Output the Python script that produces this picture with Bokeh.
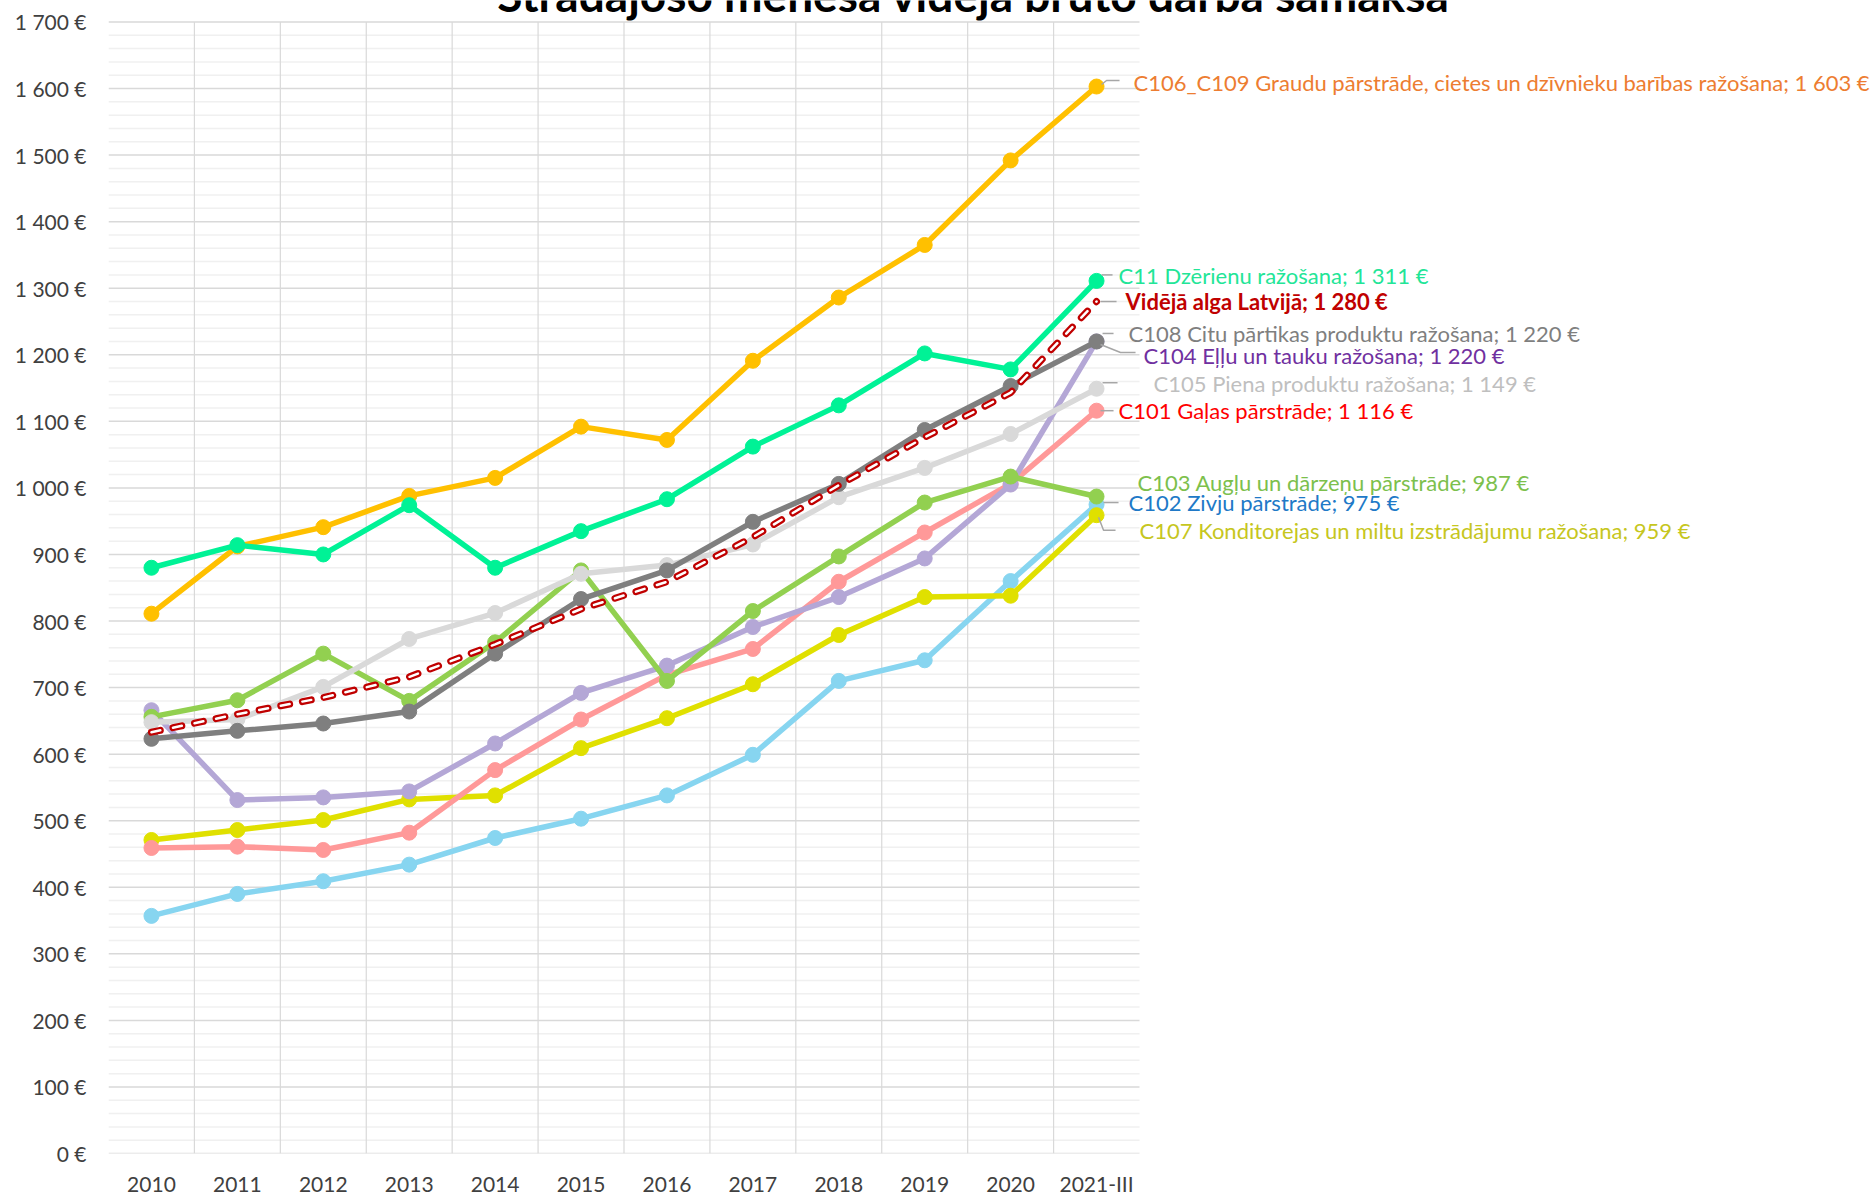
from bokeh.plotting import figure
from bokeh.models import FixedTicker, Range1d
from bokeh.embed import file_html
from bokeh.resources import INLINE
from bokeh.core.properties import value

# ---------------- data ----------------
categories = ["2010", "2011", "2012", "2013", "2014", "2015", "2016",
              "2017", "2018", "2019", "2020", "2021-III"]

c106_c109 = [811, 912, 941, 988, 1015, 1092, 1072, 1191, 1286, 1365, 1492, 1603]
c11 = [880, 914, 900, 974, 880, 935, 983, 1062, 1124, 1202, 1178, 1311]
videja_alga = [633, 660, 685, 716, 765, 818, 859, 926, 1004, 1076, 1143, 1280]
c108 = [623, 635, 646, 664, 751, 833, 876, 949, 1006, 1087, 1153, 1220]
c104 = [666, 531, 535, 544, 616, 692, 733, 791, 836, 894, 1005, 1220]
c105 = [648, 652, 701, 773, 812, 871, 884, 915, 986, 1030, 1081, 1149]
c101 = [459, 461, 456, 482, 576, 652, 719, 758, 859, 933, 1006, 1116]
c103 = [656, 681, 751, 680, 768, 876, 710, 815, 897, 978, 1017, 987]
c102 = [357, 390, 409, 434, 474, 503, 538, 599, 710, 741, 860, 975]
c107 = [471, 486, 501, 532, 538, 609, 654, 705, 779, 836, 838, 959]

names = {
    "c106_c109": "C106_C109 Graudu pārstrāde, cietes un dzīvnieku barības ražošana",
    "c11": "C11 Dzērienu ražošana",
    "videja": "Vidējā alga Latvijā",
    "c108": "C108 Citu pārtikas produktu ražošana",
    "c104": "C104 Eļļu un tauku ražošana",
    "c105": "C105 Piena produktu ražošana",
    "c101": "C101 Gaļas pārstrāde",
    "c103": "C103 Augļu un dārzeņu pārstrāde",
    "c102": "C102 Zivju pārstrāde",
    "c107": "C107 Konditorejas un miltu izstrādājumu ražošana",
}
series = {
    "c106_c109": c106_c109, "c11": c11, "videja": videja_alga, "c108": c108,
    "c104": c104, "c105": c105, "c101": c101, "c103": c103, "c102": c102,
    "c107": c107,
}
title_text = "Strādājošo mēneša vidējā bruto darba samaksa"
y_ticks = list(range(0, 1701, 100))
y_minor = [v for v in range(0, 1701, 20) if v % 100 != 0]

# ---------------- styles / layout ----------------
FONT = "Lato"
W, H = 1875, 1198
F_L, F_B = 108, 1155          # frame left / bottom (px)
CAT_W = 1031 / len(categories)  # px per category
PX_Y = (F_B - 21.5) / 1700.0    # px per euro
N = len(categories)
last = N - 1

line_color = {
    "c106_c109": "#FFC000", "c11": "#00F296", "videja": "#C00000",
    "c108": "#7F7F7F", "c104": "#B4A7D6", "c105": "#D9D9D9",
    "c101": "#FF9999", "c103": "#92D050", "c102": "#87D5F0", "c107": "#E0E000",
}
label_color = {
    "c106_c109": "#ED7D31", "c11": "#22E597", "videja": "#C00000",
    "c108": "#7F7F7F", "c104": "#7030A0", "c105": "#BFBFBF",
    "c101": "#FF0000", "c103": "#7CC04C", "c102": "#2079C7", "c107": "#C6C620",
}
# label placement relative to last point (px right, px down)
label_off = {
    "c106_c109": (37, -4), "c11": (22, -5), "videja": (29, 0),
    "c108": (32, -8), "c104": (47, 14), "c105": (57, -5), "c101": (22, 0),
    "c103": (41, -14), "c102": (32, -2), "c107": (43, 15),
}
# leader polylines relative to last point (px right, px down)
leaders = {
    "c106_c109": [(5, -2), (10, -6), (23, -6)],
    "c11": [(5, -6), (16, -6)],
    "videja": [(4, 0), (20, 0)],
    "c108": [(6, -8), (17, -8)],
    "c104": [(4, 3), (24, 11), (39, 11)],
    "c105": [(6, -6), (21, -6)],
    "c101": [(4, 0), (17, 0)],
    "c102": [(7, -2), (22, -2)],
    "c107": [(2, 2), (7, 15), (19, 15)],
}
draw_order = ["c106_c109", "c102", "c107", "c101", "c104", "c103", "c105",
              "c108", "c11"]


def euro(v):
    return f"{v:,}".replace(",", " ") + " €"


def px_x(i, dx):
    return i + dx / CAT_W


def px_y(v, dy):
    return v - dy / PX_Y


p = figure(width=W, height=H, output_backend="svg", toolbar_location=None,
           x_range=Range1d(-0.5, -0.5 + (W - F_L) / CAT_W),
           y_range=Range1d(0, F_B / PX_Y),
           min_border_left=F_L, min_border_right=0,
           min_border_top=0, min_border_bottom=H - F_B)
p.outline_line_color = None
p.background_fill_color = "white"
p.border_fill_color = "white"
p.grid.visible = False

# y axis
p.yaxis.ticker = FixedTicker(ticks=y_ticks, minor_ticks=[])
p.yaxis.major_label_overrides = {v: euro(v) for v in y_ticks}
p.yaxis.axis_line_color = None
p.yaxis.major_tick_line_color = None
p.yaxis.minor_tick_line_color = None
p.yaxis.major_tick_out = 0
p.yaxis.minor_tick_out = 0
p.yaxis.major_label_standoff = 22
p.yaxis.major_label_text_font = FONT
p.yaxis.major_label_text_font_size = "21px"
p.yaxis.major_label_text_color = "#404040"

# x axis
xt = list(range(N))
p.xaxis.ticker = FixedTicker(ticks=xt, minor_ticks=[])
p.xaxis.major_label_overrides = {i: c for i, c in enumerate(categories)}
p.xaxis.axis_line_color = None
p.xaxis.major_tick_line_color = None
p.xaxis.minor_tick_line_color = None
p.xaxis.major_tick_out = 0
p.xaxis.minor_tick_out = 0
p.xaxis.major_label_standoff = 17
p.xaxis.major_label_text_font = FONT
p.xaxis.major_label_text_font_size = "21px"
p.xaxis.major_label_text_color = "#404040"

# gridlines limited to the plot area of the original chart
x_lo, x_hi = -0.5, N - 0.5
p.segment(x0=[x_lo] * len(y_minor), x1=[x_hi] * len(y_minor), y0=y_minor, y1=y_minor,
          line_color="#F0F0F0", line_width=1.5)
p.segment(x0=[x_lo] * len(y_ticks), x1=[x_hi] * len(y_ticks), y0=y_ticks, y1=y_ticks,
          line_color="#D9D9D9", line_width=1.5)
vx = [i + 0.5 for i in range(N - 1)]
p.segment(x0=vx, x1=vx, y0=[0] * len(vx), y1=[y_ticks[-1]] * len(vx),
          line_color="#D9D9D9", line_width=1.2)

# series
for key in draw_order:
    ys = series[key]
    p.line(xt, ys, line_color=line_color[key], line_width=5.5)
    p.scatter(xt, ys, size=15, fill_color=line_color[key], line_color=line_color[key])

# average wage: outlined dashes
p.line(xt, videja_alga, line_color="#C00000", line_width=7, line_dash="9 13",
       line_cap="round")
p.line(xt, videja_alga, line_color="white", line_width=2.5, line_dash="9 13",
       line_cap="round")

# leader lines
lx, ly = [], []
for key, pts in leaders.items():
    v = series[key][-1]
    lx.append([px_x(last, dx) for dx, dy in pts])
    ly.append([px_y(v, dy) for dx, dy in pts])
p.multi_line(lx, ly, line_color="#A6A6A6", line_width=1.5)

# end labels
for key, ys in series.items():
    v = ys[-1]
    sep = ";  " if v < 1000 else "; "
    dx, dy = label_off[key]
    p.text(x=[px_x(last, dx)], y=[px_y(v, dy)], text=[names[key] + sep + euro(v)],
           text_font=value(FONT), text_font_size=value("22px"),
           text_font_style="bold" if key == "videja" else "normal",
           text_color=label_color[key], text_align="left", text_baseline="middle")

# title (cut off at the top like the original)
p.text(x=[px_x(-0.5, 973 - F_L)], y=[px_y(0, -6 - F_B)], text=[title_text],
       text_font=value(FONT), text_font_size=value("46px"), text_font_style="bold",
       text_color="#000000", text_align="center", text_baseline="alphabetic")

open("out.html", "w").write(file_html(p, INLINE))
